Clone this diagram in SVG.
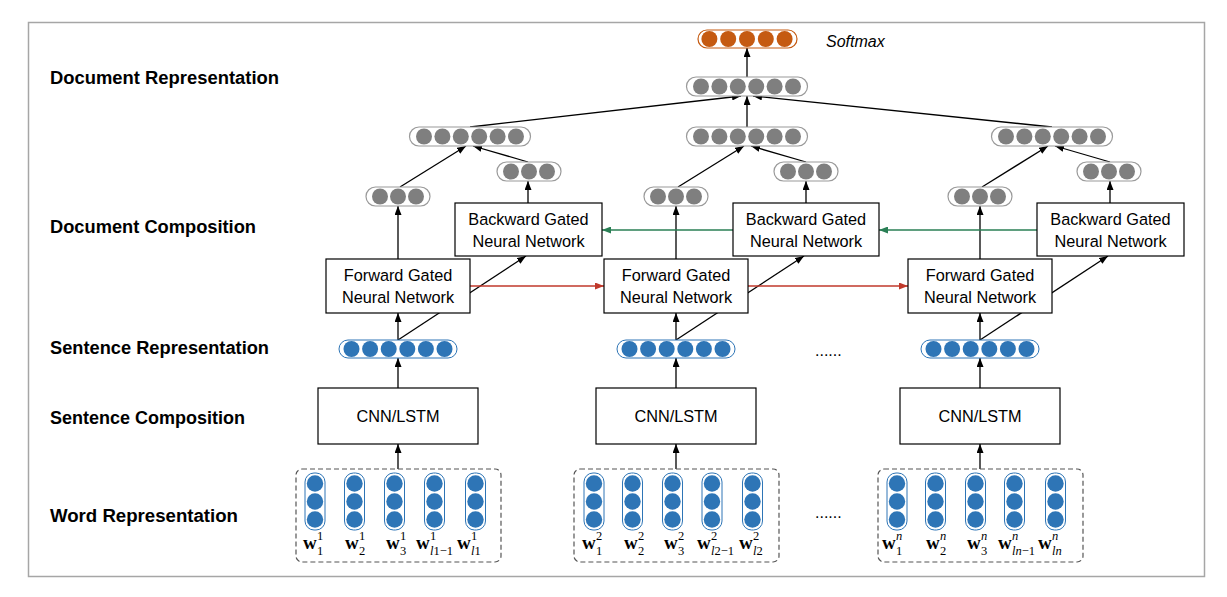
<svg xmlns="http://www.w3.org/2000/svg" width="1227" height="597" viewBox="0 0 1227 597">
<style>
.lbl{font-family:"Liberation Sans",Arial,sans-serif;font-weight:bold;font-size:18px;fill:#000}
.box{fill:#fff;stroke:#000;stroke-width:1.2}
.bt{font-family:"Liberation Sans",Arial,sans-serif;font-size:16.3px;text-anchor:middle;fill:#000}
.capB{fill:#fff;stroke:#2E75B6;stroke-width:1}
.cB{fill:#2E75B6}
.capG{fill:#fff;stroke:#9A9A9A;stroke-width:1.2}
.cG{fill:#7F7F7F}
.capO{fill:#fff;stroke:#C55A11;stroke-width:1.2}
.cO{fill:#C55A11}
.dash{fill:none;stroke:#555;stroke-width:1.2;stroke-dasharray:5,3}
.ln{stroke:#000;stroke-width:1.3;fill:none;marker-end:url(#ah)}
.red{stroke:#C0392B;stroke-width:1.5;fill:none;marker-end:url(#ahr)}
.grn{stroke:#2A7F55;stroke-width:1.5;fill:none;marker-end:url(#ahg)}
.w{font-family:"Liberation Serif","Times New Roman",serif;font-weight:bold;font-size:19px;fill:#000}
.s{font-family:"Liberation Serif","Times New Roman",serif;font-size:12.5px;fill:#000}
.it{font-style:italic}
.dots{font-family:"Liberation Sans",Arial,sans-serif;font-size:16px;fill:#000}
</style>
<defs>
<marker id="ah" markerWidth="9" markerHeight="7" refX="9" refY="3.5" orient="auto" markerUnits="userSpaceOnUse"><path d="M0,0 L9,3.5 L0,7 z" fill="#000"/></marker>
<marker id="ahr" markerWidth="9" markerHeight="7" refX="9" refY="3.5" orient="auto" markerUnits="userSpaceOnUse"><path d="M0,0 L9,3.5 L0,7 z" fill="#C0392B"/></marker>
<marker id="ahg" markerWidth="9" markerHeight="7" refX="9" refY="3.5" orient="auto" markerUnits="userSpaceOnUse"><path d="M0,0 L9,3.5 L0,7 z" fill="#2A7F55"/></marker>
<g id="cap3g"><rect x="-32" y="-9.5" width="64" height="19" rx="9.5" class="capG"/><circle cx="-18" cy="0" r="8" class="cG"/><circle cx="0" cy="0" r="8" class="cG"/><circle cx="18" cy="0" r="8" class="cG"/></g>
<g id="cap6g"><rect x="-60.5" y="-9.5" width="121" height="19" rx="9.5" class="capG"/><circle cx="-46" cy="0" r="8" class="cG"/><circle cx="-27.6" cy="0" r="8" class="cG"/><circle cx="-9.2" cy="0" r="8" class="cG"/><circle cx="9.2" cy="0" r="8" class="cG"/><circle cx="27.6" cy="0" r="8" class="cG"/><circle cx="46" cy="0" r="8" class="cG"/></g>
<g id="cap6b"><rect x="-59" y="-9" width="118" height="18" rx="9" class="capB"/><circle cx="-46.5" cy="0" r="8" class="cB"/><circle cx="-27.9" cy="0" r="8" class="cB"/><circle cx="-9.3" cy="0" r="8" class="cB"/><circle cx="9.3" cy="0" r="8" class="cB"/><circle cx="27.9" cy="0" r="8" class="cB"/><circle cx="46.5" cy="0" r="8" class="cB"/></g>
<g id="wcap"><rect x="-10" y="0" width="20" height="57" rx="9" class="capB"/><circle cx="0" cy="10.5" r="8.2" class="cB"/><circle cx="0" cy="28.5" r="8.2" class="cB"/><circle cx="0" cy="46.5" r="8.2" class="cB"/></g>
</defs>
<rect x="28.5" y="22.5" width="1176" height="554" fill="#fff" stroke="#A6A6A6" stroke-width="1.5"/>

<g id="labels">
<text class="lbl" x="50" y="84" textLength="229" lengthAdjust="spacingAndGlyphs">Document Representation</text>
<text class="lbl" x="50" y="233" textLength="206" lengthAdjust="spacingAndGlyphs">Document Composition</text>
<text class="lbl" x="50" y="354" textLength="219" lengthAdjust="spacingAndGlyphs">Sentence Representation</text>
<text class="lbl" x="50" y="424" textLength="195" lengthAdjust="spacingAndGlyphs">Sentence Composition</text>
<text class="lbl" x="50" y="522" textLength="188" lengthAdjust="spacingAndGlyphs">Word Representation</text>
</g>

<g id="connectors">
<line class="ln" x1="398" y1="469" x2="398" y2="444"/>
<line class="ln" x1="398" y1="388" x2="398" y2="358"/>
<line class="ln" x1="398" y1="340" x2="398" y2="313"/>
<line class="ln" x1="398" y1="340" x2="526" y2="256"/>
<line class="ln" x1="398" y1="259" x2="398" y2="206"/>
<line class="ln" x1="528" y1="203" x2="528" y2="181"/>
<line class="ln" x1="400" y1="187" x2="466" y2="146"/>
<line class="ln" x1="528" y1="162" x2="473" y2="146"/>
<line class="ln" x1="676" y1="469" x2="676" y2="444"/>
<line class="ln" x1="676" y1="388" x2="676" y2="358"/>
<line class="ln" x1="676" y1="340" x2="676" y2="313"/>
<line class="ln" x1="676" y1="340" x2="804" y2="256"/>
<line class="ln" x1="676" y1="259" x2="676" y2="206"/>
<line class="ln" x1="806" y1="203" x2="806" y2="181"/>
<line class="ln" x1="678" y1="187" x2="744" y2="146"/>
<line class="ln" x1="806" y1="162" x2="751" y2="146"/>
<line class="ln" x1="980" y1="469" x2="980" y2="444"/>
<line class="ln" x1="980" y1="388" x2="980" y2="358"/>
<line class="ln" x1="980" y1="340" x2="980" y2="313"/>
<line class="ln" x1="980" y1="340" x2="1108" y2="256"/>
<line class="ln" x1="980" y1="259" x2="980" y2="206"/>
<line class="ln" x1="1110" y1="203" x2="1110" y2="181"/>
<line class="ln" x1="982" y1="187" x2="1048" y2="146"/>
<line class="ln" x1="1110" y1="162" x2="1055" y2="146"/>
<line class="ln" x1="470" y1="127" x2="741" y2="96"/>
<line class="ln" x1="747" y1="127" x2="747" y2="96"/>
<line class="ln" x1="1052" y1="127" x2="753" y2="96"/>
<line class="ln" x1="747" y1="77" x2="747" y2="48"/>
<line class="red" x1="470" y1="286" x2="604" y2="286"/>
<line class="red" x1="748" y1="286" x2="908" y2="286"/>
<line class="grn" x1="733" y1="230" x2="602" y2="230"/>
<line class="grn" x1="1037" y1="230" x2="879" y2="230"/>
</g>

<g id="softmax">
<rect x="698" y="30" width="99" height="18" rx="9" class="capO"/>
<circle cx="709.4" cy="39" r="8" class="cO"/><circle cx="728.2" cy="39" r="8" class="cO"/><circle cx="747" cy="39" r="8" class="cO"/><circle cx="765.8" cy="39" r="8" class="cO"/><circle cx="784.6" cy="39" r="8" class="cO"/>
<text x="826" y="47" font-family="Liberation Sans, Arial, sans-serif" font-style="italic" font-size="16">Softmax</text>
</g>
<g id="doc-rep"><use href="#cap6g" x="747" y="86.5"/></g>

<g id="col1">
<g id="doc-comp-1"><use href="#cap6g" x="470" y="136.5"/></g>
<g id="fwd-out-1"><use href="#cap3g" x="398" y="196.5"/></g>
<g id="bwd-out-1"><use href="#cap3g" x="529" y="171.5"/></g>
<g id="bwd-1"><rect x="455" y="203" width="147" height="53" class="box"/><text class="bt" x="528.5" y="225">Backward Gated</text><text class="bt" x="528.5" y="247">Neural Network</text></g>
<g id="fwd-1"><rect x="326" y="259" width="144" height="54" class="box"/><text class="bt" x="398" y="281">Forward Gated</text><text class="bt" x="398" y="303">Neural Network</text></g>
<g id="sent-1"><use href="#cap6b" x="398" y="349"/></g>
<g id="cnn-1"><rect x="318" y="388" width="160" height="56" class="box"/><text class="bt" x="398" y="422">CNN/LSTM</text></g>
<g id="words-1">
<rect x="296" y="469" width="205" height="93" rx="6" class="dash"/>
<use href="#wcap" x="315" y="473"/><use href="#wcap" x="354.5" y="473"/><use href="#wcap" x="394.5" y="473"/><use href="#wcap" x="434.5" y="473"/><use href="#wcap" x="475.5" y="473"/>
<text class="w" x="303" y="549">w</text><text class="s" x="317" y="540">1</text><text class="s" x="317" y="555">1</text>
<text class="w" x="345" y="549">w</text><text class="s" x="359" y="540">1</text><text class="s" x="359" y="555">2</text>
<text class="w" x="386" y="549">w</text><text class="s" x="400" y="540">1</text><text class="s" x="400" y="555">3</text>
<text class="w" x="416" y="549">w</text><text class="s" x="430" y="540">1</text><text class="s" x="430" y="555"><tspan class="it">l</tspan>1−1</text>
<text class="w" x="457" y="549">w</text><text class="s" x="471" y="540">1</text><text class="s" x="471" y="555"><tspan class="it">l</tspan>1</text>
</g>
</g>

<g id="col2">
<g id="doc-comp-2"><use href="#cap6g" x="747" y="136.5"/></g>
<g id="fwd-out-2"><use href="#cap3g" x="676" y="196.5"/></g>
<g id="bwd-out-2"><use href="#cap3g" x="806" y="171.5"/></g>
<g id="bwd-2"><rect x="733" y="203" width="146" height="53" class="box"/><text class="bt" x="806" y="225">Backward Gated</text><text class="bt" x="806" y="247">Neural Network</text></g>
<g id="fwd-2"><rect x="604" y="259" width="144" height="54" class="box"/><text class="bt" x="676" y="281">Forward Gated</text><text class="bt" x="676" y="303">Neural Network</text></g>
<g id="sent-2"><use href="#cap6b" x="676" y="349"/></g>
<g id="cnn-2"><rect x="596" y="388" width="160" height="56" class="box"/><text class="bt" x="676" y="422">CNN/LSTM</text></g>
<g id="words-2">
<rect x="574" y="469" width="205" height="93" rx="6" class="dash"/>
<use href="#wcap" x="594" y="473"/><use href="#wcap" x="632.5" y="473"/><use href="#wcap" x="672.5" y="473"/><use href="#wcap" x="712" y="473"/><use href="#wcap" x="752.5" y="473"/>
<text class="w" x="582" y="549">w</text><text class="s" x="596" y="540">2</text><text class="s" x="596" y="555">1</text>
<text class="w" x="624" y="549">w</text><text class="s" x="638" y="540">2</text><text class="s" x="638" y="555">2</text>
<text class="w" x="664" y="549">w</text><text class="s" x="678" y="540">2</text><text class="s" x="678" y="555">3</text>
<text class="w" x="697" y="549">w</text><text class="s" x="711" y="540">2</text><text class="s" x="711" y="555"><tspan class="it">l</tspan>2−1</text>
<text class="w" x="739" y="549">w</text><text class="s" x="753" y="540">2</text><text class="s" x="753" y="555"><tspan class="it">l</tspan>2</text>
</g>
</g>

<g id="col3">
<g id="doc-comp-3"><use href="#cap6g" x="1052" y="136.5"/></g>
<g id="fwd-out-3"><use href="#cap3g" x="980" y="196.5"/></g>
<g id="bwd-out-3"><use href="#cap3g" x="1109" y="171.5"/></g>
<g id="bwd-3"><rect x="1037" y="203" width="147" height="53" class="box"/><text class="bt" x="1110.5" y="225">Backward Gated</text><text class="bt" x="1110.5" y="247">Neural Network</text></g>
<g id="fwd-3"><rect x="908" y="259" width="144" height="54" class="box"/><text class="bt" x="980" y="281">Forward Gated</text><text class="bt" x="980" y="303">Neural Network</text></g>
<g id="sent-3"><use href="#cap6b" x="980" y="349"/></g>
<g id="cnn-3"><rect x="900" y="388" width="160" height="56" class="box"/><text class="bt" x="980" y="422">CNN/LSTM</text></g>
<g id="words-3">
<rect x="878" y="469" width="205" height="93" rx="6" class="dash"/>
<use href="#wcap" x="897" y="473"/><use href="#wcap" x="935.5" y="473"/><use href="#wcap" x="975.5" y="473"/><use href="#wcap" x="1014.5" y="473"/><use href="#wcap" x="1055.5" y="473"/>
<text class="w" x="882" y="549">w</text><text class="s it" x="896" y="540">n</text><text class="s" x="896" y="555">1</text>
<text class="w" x="926" y="549">w</text><text class="s it" x="940" y="540">n</text><text class="s" x="940" y="555">2</text>
<text class="w" x="967" y="549">w</text><text class="s it" x="981" y="540">n</text><text class="s" x="981" y="555">3</text>
<text class="w" x="998" y="549">w</text><text class="s it" x="1012" y="540">n</text><text class="s" x="1012" y="555"><tspan class="it">ln</tspan>−1</text>
<text class="w" x="1038" y="549">w</text><text class="s it" x="1052" y="540">n</text><text class="s it" x="1052" y="555">ln</text>
</g>
</g>

<g id="ellipses">
<text class="dots" x="815" y="356">......</text>
<text class="dots" x="815" y="518">......</text>
</g>
</svg>
